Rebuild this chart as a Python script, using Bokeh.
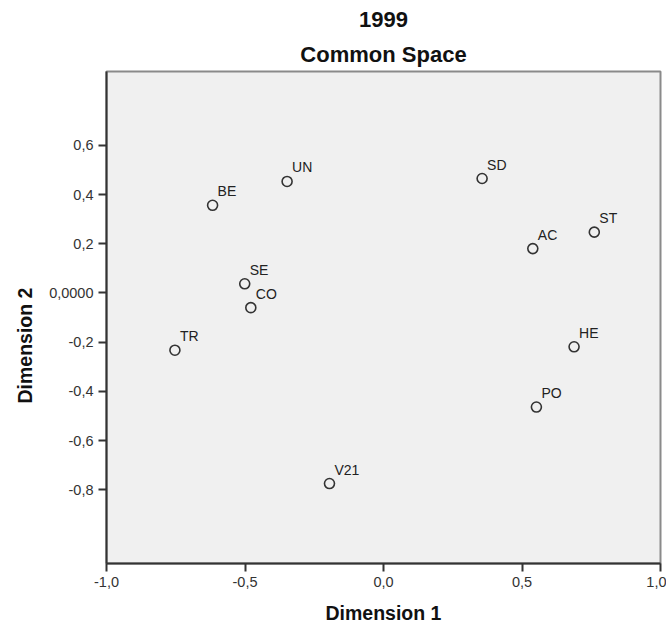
from bokeh.plotting import figure
from bokeh.models import ColumnDataSource, FixedTicker, Title, Range1d
from bokeh.core.properties import value
from bokeh.embed import file_html
from bokeh.resources import INLINE

# Data
names = ["UN", "BE", "SE", "CO", "TR", "SD", "AC", "ST", "HE", "PO", "V21"]
dim1 = [-0.348, -0.617, -0.501, -0.479, -0.753, 0.356, 0.539, 0.761, 0.688, 0.552, -0.195]
dim2 = [0.453, 0.356, 0.037, -0.060, -0.233, 0.465, 0.180, 0.247, -0.219, -0.464, -0.775]

x_ticks = [-1.0, -0.5, 0.0, 0.5, 1.0]
x_tick_labels = ["-1,0", "-0,5", "0,0", "0,5", "1,0"]
y_ticks = [-0.8, -0.6, -0.4, -0.2, 0.0, 0.2, 0.4, 0.6]
y_tick_labels = ["-0,8", "-0,6", "-0,4", "-0,2", "0,0000", "0,2", "0,4", "0,6"]

FONT = "Liberation Sans"

p = figure(width=666, height=626, output_backend="svg", toolbar_location=None,
           x_range=Range1d(-1.0, 1.0), y_range=Range1d(-1.1, 0.9),
           min_border_left=106, min_border_right=6, min_border_top=71, min_border_bottom=58)
p.title.visible = False

p.add_layout(Title(text="Common Space", align="center", text_font=FONT, text_font_size="22px",
                   text_font_style="bold", text_color="#111111", standoff=9), "above")
p.add_layout(Title(text="1999", align="center", text_font=FONT, text_font_size="22px",
                   text_font_style="bold", text_color="#111111", standoff=17), "above")
# y-axis title (a little below the frame centre, as in the reference)
p.add_layout(Title(text="Dimension 2", align="left", offset=160, text_font=FONT,
                   text_font_size="19.5px", text_font_style="bold", text_color="#111111",
                   standoff=21), "left")

p.background_fill_color = "#F0F0F0"
p.border_fill_color = "white"
p.outline_line_color = "#8a8a8a"
p.outline_line_width = 2
p.xgrid.visible = False
p.ygrid.visible = False

for ax in (p.xaxis[0], p.yaxis[0]):
    ax.axis_line_color = "#333333"
    ax.axis_line_width = 2
    ax.major_tick_line_color = "#333333"
    ax.major_tick_line_width = 2
    ax.major_tick_out = 8
    ax.major_tick_in = 0
    ax.minor_tick_line_color = None
    ax.major_label_text_font = FONT
    ax.major_label_text_font_size = "14.5px"
    ax.major_label_text_color = "#333333"
    ax.major_label_standoff = 5
    ax.axis_label_text_font = FONT
    ax.axis_label_text_font_size = "19.5px"
    ax.axis_label_text_font_style = "bold"
    ax.axis_label_text_color = "#111111"

p.xaxis[0].ticker = FixedTicker(ticks=x_ticks)
p.xaxis[0].major_label_overrides = dict(zip(x_ticks, x_tick_labels))
p.yaxis[0].ticker = FixedTicker(ticks=y_ticks)
p.yaxis[0].major_label_overrides = dict(zip(y_ticks, y_tick_labels))
p.xaxis[0].axis_label = "Dimension 1"
p.xaxis[0].axis_label_standoff = 12

src = ColumnDataSource(data=dict(x=dim1, y=dim2, name=names))
p.scatter("x", "y", source=src, marker="circle", size=10, fill_color=None,
          line_color="#333333", line_width=1.6)
p.text("x", "y", text="name", source=src, x_offset=5, y_offset=-14,
       text_font=value(FONT), text_font_size="14px", text_color="#222222",
       text_baseline="middle", text_align="left")

open("out.html", "w").write(file_html(p, INLINE))
